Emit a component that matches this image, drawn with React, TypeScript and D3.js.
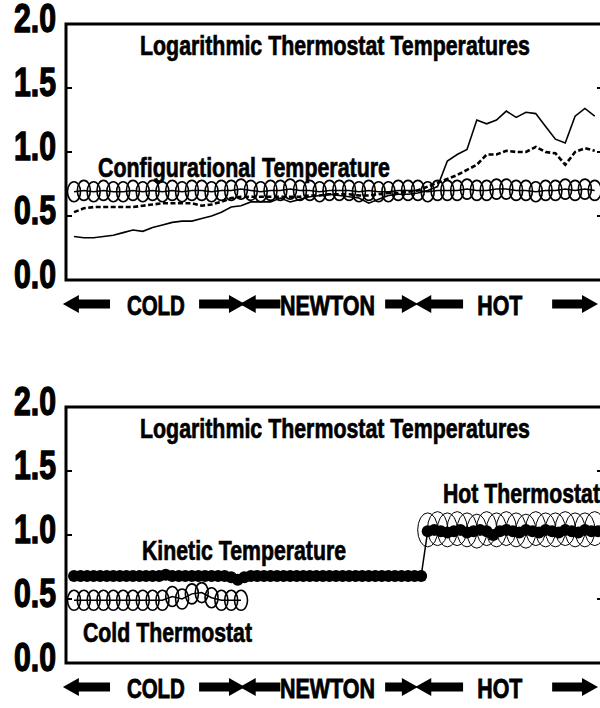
import React, { useEffect, useRef } from 'react';
import * as d3 from 'd3';

// y axis ticks (both panels)
const yTicks = [0.0, 0.5, 1.0, 1.5, 2.0];

// regions along the run (time in steps)
const regionLabels = ['COLD', 'NEWTON', 'HOT'];
const regionCenters = [12.5, 38.7, 65];
const regionWidths = [58, 95, 45];
const arrowTails = [5.5, 19.1, 31.5, 47.5, 59.4, 73.0];
const arrowTips = [-1.7, 26.1, 25.3, 52.5, 52.1, 80.0];

// top panel, sampled every 1.5 steps
const topSolid = [
  0.34, 0.33, 0.33, 0.34, 0.35, 0.37, 0.39, 0.38, 0.41, 0.43,
  0.45, 0.46, 0.46, 0.48, 0.50, 0.53, 0.57, 0.58, 0.61, 0.61,
  0.61, 0.64, 0.61, 0.63, 0.65, 0.66, 0.67, 0.66, 0.65, 0.64,
  0.60, 0.63, 0.66, 0.67, 0.67, 0.68, 0.70, 0.73, 0.93, 0.98,
  1.02, 1.25, 1.22, 1.25, 1.32, 1.27, 1.31, 1.30, 1.20, 1.10,
  1.07, 1.28, 1.34, 1.28,
];
const topDashed = [
  0.53, 0.56, 0.57, 0.57, 0.57, 0.57, 0.57, 0.58, 0.59, 0.60,
  0.60, 0.60, 0.60, 0.58, 0.59, 0.61, 0.64, 0.65, 0.65, 0.65,
  0.65, 0.65, 0.65, 0.65, 0.66, 0.66, 0.67, 0.67, 0.67, 0.66,
  0.66, 0.67, 0.68, 0.68, 0.69, 0.70, 0.73, 0.76, 0.79, 0.82,
  0.86, 0.90, 0.98, 0.98, 1.01, 1.00, 1.00, 1.04, 1.00, 0.99,
  0.90, 1.00, 1.03, 1.01,
];
const topConfig = [
  0.69, 0.70, 0.69, 0.70, 0.69, 0.69, 0.70, 0.69, 0.70, 0.69,
  0.70, 0.69, 0.70, 0.70, 0.69, 0.70, 0.70, 0.71, 0.70, 0.69,
  0.70, 0.70, 0.71, 0.70, 0.70, 0.69, 0.70, 0.70, 0.70, 0.69,
  0.70, 0.69, 0.69, 0.70, 0.70, 0.70, 0.69, 0.70, 0.70, 0.70,
  0.71, 0.70, 0.70, 0.71, 0.71, 0.70, 0.70, 0.69, 0.70, 0.70,
  0.71, 0.70, 0.71, 0.70,
];

// bottom panel: kinetic temperature every step
const kinetic = [
  0.68, 0.68, 0.68, 0.68, 0.68, 0.68, 0.68, 0.68, 0.68, 0.68,
  0.68, 0.68, 0.68, 0.68, 0.69, 0.68, 0.68, 0.68, 0.68, 0.68,
  0.68, 0.68, 0.68, 0.68, 0.67, 0.65, 0.67, 0.68, 0.68, 0.68,
  0.68, 0.68, 0.68, 0.68, 0.68, 0.68, 0.68, 0.68, 0.68, 0.68,
  0.68, 0.68, 0.68, 0.68, 0.68, 0.68, 0.68, 0.68, 0.68, 0.68,
  0.68, 0.68, 0.68, 0.68, 1.03, 1.04, 1.03, 1.02, 1.03, 1.04,
  1.02, 1.03, 1.04, 1.03, 1.00, 1.03, 1.04, 1.03, 1.02, 1.04,
  1.03, 1.02, 1.04, 1.03, 1.02, 1.04, 1.03, 1.02, 1.04, 1.03,
  1.03,
];
// thermostats every 1.5 steps
const coldThermostat = [
  0.49, 0.49, 0.49, 0.49, 0.49, 0.49, 0.49, 0.49, 0.49, 0.49,
  0.52, 0.50, 0.54, 0.55, 0.51, 0.49, 0.49, 0.49,
];
const hotStart = 54;
const hotThermostat = [
  1.04, 1.05, 1.04, 1.05, 1.04, 1.03, 1.05, 1.04, 1.05, 1.04,
  1.03, 1.05, 1.04, 1.04, 1.05, 1.04, 1.04, 1.05,
];

const FONT = "'Liberation Sans Narrow', 'Arial Narrow', 'Liberation Sans', Arial, sans-serif";

export default function App() {
  const svgRef = useRef<SVGSVGElement>(null);

  useEffect(() => {
    document.body.style.margin = '0';
    const svg = d3.select(svgRef.current);
    svg.selectAll('*').remove();

    const left = 66;
    const right = 603;
    const x = d3.scaleLinear().domain([0, 80]).range([74, 598]);

    // heavy condensed labels: bold + a thin outline
    const addText = (g, txt, tx, ty, size, w, anchor = 'start', sw = 0.7) =>
      g.append('text')
        .attr('x', tx)
        .attr('y', ty)
        .attr('text-anchor', anchor)
        .attr('font-family', FONT)
        .attr('font-weight', 'bold')
        .attr('font-size', size)
        .attr('fill', '#000')
        .attr('stroke', '#000')
        .attr('stroke-width', sw)
        .attr('textLength', w)
        .attr('lengthAdjust', 'spacingAndGlyphs')
        .text(txt);

    const drawPanel = (top) => {
      const g = svg.append('g');
      const y = d3.scaleLinear().domain([0, 2]).range([top + 256, top]);

      // frame
      g.append('rect')
        .attr('x', left).attr('y', top)
        .attr('width', right - left).attr('height', 256)
        .attr('fill', 'none').attr('stroke', '#000').attr('stroke-width', 3);

      // inward ticks
      [0.5, 1.0, 1.5].forEach(v => {
        g.append('line').attr('x1', left).attr('x2', left + 6)
          .attr('y1', y(v)).attr('y2', y(v)).attr('stroke', '#000').attr('stroke-width', 2);
        g.append('line').attr('x1', right - 6).attr('x2', right)
          .attr('y1', y(v)).attr('y2', y(v)).attr('stroke', '#000').attr('stroke-width', 2);
      });

      // tick labels
      yTicks.forEach(v => addText(g, v.toFixed(1), 56, y(v) + 8, 41, 42, 'end', 1.4));

      // title
      addText(g, 'Logarithmic Thermostat Temperatures', 140, top + 31, 28, 390);

      // region labels and arrows
      const cy = top + 280;
      regionLabels.forEach((lab, i) =>
        addText(g, lab, x(regionCenters[i]), top + 291, 28, regionWidths[i], 'middle', 0.9));
      arrowTails.forEach((t, i) => {
        const x0 = x(t);
        const tip = x(arrowTips[i]);
        const dir = tip > x0 ? 1 : -1;
        const xh = tip - dir * 16;
        const p = d3.path();
        p.moveTo(x0, cy - 4.5);
        p.lineTo(xh, cy - 4.5);
        p.lineTo(xh, cy - 9);
        p.lineTo(tip, cy);
        p.lineTo(xh, cy + 9);
        p.lineTo(xh, cy + 4.5);
        p.lineTo(x0, cy + 4.5);
        p.closePath();
        g.append('path').attr('d', p.toString()).attr('fill', '#000');
      });

      return { g, y };
    };

    const ellipses = (g, data, y, rx, ry, sw) => {
      g.append('g').selectAll('ellipse')
        .data(data)
        .enter()
        .append('ellipse')
        .attr('cx', d => x(d.t))
        .attr('cy', d => y(d.v))
        .attr('rx', rx)
        .attr('ry', ry)
        .attr('fill', 'none')
        .attr('stroke', '#000')
        .attr('stroke-width', sw);
    };

    const line = (y) => d3.line<any>().x(d => x(d.t)).y(d => y(d.v));

    // ---- top panel
    const p1 = drawPanel(24);
    const cfg = topConfig.map((v, i) => ({ t: i * 1.5, v }));
    const sol = topSolid.map((v, i) => ({ t: i * 1.5, v }));
    const dash = topDashed.map((v, i) => ({ t: i * 1.5, v }));

    p1.g.append('path').attr('d', line(p1.y)(cfg))
      .attr('fill', 'none').attr('stroke', '#000').attr('stroke-width', 1.5);
    ellipses(p1.g, cfg, p1.y, 6.5, 10, 1.6);
    p1.g.append('path').attr('d', line(p1.y)(dash))
      .attr('fill', 'none').attr('stroke', '#000').attr('stroke-width', 2.6)
      .attr('stroke-dasharray', '5,2.5');
    p1.g.append('path').attr('d', line(p1.y)(sol))
      .attr('fill', 'none').attr('stroke', '#000').attr('stroke-width', 1.6);
    addText(p1.g, 'Configurational Temperature', 98, 177, 28, 292);

    // ---- bottom panel
    const p2 = drawPanel(407);
    const cold = coldThermostat.map((v, i) => ({ t: i * 1.5, v }));
    const hot = hotThermostat.map((v, i) => ({ t: hotStart + i * 1.5, v }));
    const kin = kinetic.map((v, i) => ({ t: i, v }));

    p2.g.append('path').attr('d', line(p2.y)(cold))
      .attr('fill', 'none').attr('stroke', '#000').attr('stroke-width', 1.5);
    ellipses(p2.g, cold, p2.y, 6.5, 10, 1.6);
    ellipses(p2.g, hot, p2.y, 10, 17, 1);

    p2.g.append('path').attr('d', line(p2.y)(kin))
      .attr('fill', 'none').attr('stroke', '#000').attr('stroke-width', 1.5);
    p2.g.append('g').selectAll('circle')
      .data(kin)
      .enter()
      .append('circle')
      .attr('cx', d => x(d.t))
      .attr('cy', d => p2.y(d.v))
      .attr('r', 6)
      .attr('fill', '#000');

    addText(p2.g, 'Kinetic Temperature', 142, 560, 28, 204);
    addText(p2.g, 'Cold Thermostat', 83, 642, 28, 169);
    addText(p2.g, 'Hot Thermostat', 443, 503, 28, 157);
  }, []);

  return (
    <div>
      <svg ref={svgRef} width={600} height={708} style={{ display: 'block' }}></svg>
    </div>
  );
}
